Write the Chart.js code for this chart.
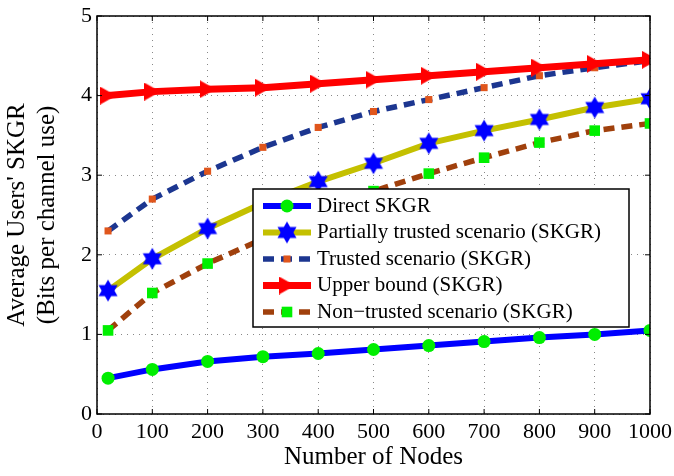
<!DOCTYPE html>
<html>
<head>
<meta charset="utf-8">
<script src="https://cdn.jsdelivr.net/npm/chart.js@4.4.0/dist/chart.umd.min.js"></script>
<style>
  html, body { margin: 0; padding: 0; background: #fff; }
  #wrap { width: 674px; height: 476px; }
</style>
</head>
<body>
<div id="wrap"><canvas id="c" width="674" height="476"></canvas></div>
<script>
const nodes = [20, 100, 200, 300, 400, 500, 600, 700, 800, 900, 1000];
const direct = [0.45, 0.56, 0.66, 0.72, 0.76, 0.81, 0.86, 0.91, 0.96, 1.0, 1.05];
const partial = [1.55, 1.95, 2.33, 2.65, 2.92, 3.15, 3.4, 3.56, 3.7, 3.85, 3.96];
const trusted = [2.3, 2.7, 3.05, 3.35, 3.6, 3.8, 3.95, 4.1, 4.25, 4.35, 4.44];
const upper = [4.0, 4.05, 4.08, 4.1, 4.15, 4.2, 4.25, 4.3, 4.35, 4.4, 4.45];
const nonTrusted = [1.05, 1.52, 1.89, 2.2, 2.5, 2.8, 3.02, 3.22, 3.41, 3.56, 3.65];
const xTicks = [0, 100, 200, 300, 400, 500, 600, 700, 800, 900, 1000];
const yTicks = [0, 1, 2, 3, 4, 5];

const FONT = '"Liberation Serif", "DejaVu Serif", serif';

// marker images
function hexagram(r, color) {
  const c = document.createElement('canvas');
  c.width = c.height = Math.ceil(r * 2 + 2);
  const g = c.getContext('2d');
  const cx = c.width / 2, cy = c.height / 2;
  g.fillStyle = color;
  for (const off of [-Math.PI / 2, Math.PI / 2]) {
    g.beginPath();
    for (let k = 0; k < 3; k++) {
      const a = off + k * 2 * Math.PI / 3;
      g.lineTo(cx + r * Math.cos(a), cy + r * Math.sin(a));
    }
    g.closePath();
    g.fill();
  }
  return c;
}
function triRight(w, h, color) {
  const c = document.createElement('canvas');
  c.width = w; c.height = h;
  const g = c.getContext('2d');
  g.fillStyle = color;
  g.beginPath();
  g.moveTo(0, 0); g.lineTo(w, h / 2); g.lineTo(0, h);
  g.closePath();
  g.fill();
  return c;
}

const starImg = hexagram(11, '#0000ff');
const triImg = triRight(16, 18, '#ff0000');

const pts = arr => nodes.map((n, i) => ({ x: n, y: arr[i] }));

const datasets = [
  {
    label: 'Direct SKGR',
    data: pts(direct),
    borderColor: '#0000ff', borderWidth: 6,
    pointStyle: 'circle', pointRadius: 6.5,
    pointBackgroundColor: '#00ee00', pointBorderColor: '#00ee00', pointBorderWidth: 0,
    order: 5
  },
  {
    label: 'Partially trusted scenario (SKGR)',
    data: pts(partial),
    borderColor: '#c4c000', borderWidth: 6,
    pointStyle: starImg, pointRadius: 10,
    order: 4
  },
  {
    label: 'Trusted scenario (SKGR)',
    data: pts(trusted),
    borderColor: '#1c3690', borderWidth: 5.5, borderDash: [11, 7],
    pointStyle: 'rect', pointRadius: 5,
    pointBackgroundColor: '#e0561c', pointBorderColor: '#e0561c', pointBorderWidth: 0,
    order: 3
  },
  {
    label: 'Upper bound (SKGR)',
    data: pts(upper),
    borderColor: '#ff0000', borderWidth: 7,
    pointStyle: triImg, pointRadius: 9,
    order: 2
  },
  {
    label: 'Non\u2212trusted scenario (SKGR)',
    data: pts(nonTrusted),
    borderColor: '#a0400c', borderWidth: 5.5, borderDash: [11, 7],
    pointStyle: 'rect', pointRadius: 7.5,
    pointBackgroundColor: '#00f000', pointBorderColor: '#00f000', pointBorderWidth: 0,
    order: 1
  }
];

// frame, inward ticks and the boxed legend
const framePlugin = {
  id: 'frame',
  afterDatasetsDraw(chart) {
    const { ctx, chartArea: a, scales } = chart;
    ctx.save();
    ctx.strokeStyle = '#000';
    ctx.lineWidth = 1.5;
    ctx.strokeRect(a.left, a.top, a.right - a.left, a.bottom - a.top);
    ctx.lineWidth = 1;
    ctx.beginPath();
    xTicks.forEach(v => {
      const x = scales.x.getPixelForValue(v);
      ctx.moveTo(x, a.bottom); ctx.lineTo(x, a.bottom - 5);
      ctx.moveTo(x, a.top); ctx.lineTo(x, a.top + 5);
    });
    yTicks.forEach(v => {
      const y = scales.y.getPixelForValue(v);
      ctx.moveTo(a.left, y); ctx.lineTo(a.left + 5, y);
      ctx.moveTo(a.right, y); ctx.lineTo(a.right - 5, y);
    });
    ctx.stroke();

    // legend box
    const lx = 253, ly = 189, lw = 376, lh = 138;
    ctx.fillStyle = '#fff';
    ctx.fillRect(lx, ly, lw, lh);
    ctx.lineWidth = 1.5;
    ctx.strokeRect(lx, ly, lw, lh);
    ctx.font = '21px ' + FONT;
    ctx.textBaseline = 'middle';
    datasets.forEach((ds, i) => {
      const y = ly + 17 + i * 26.5;
      const x0 = lx + 10, x1 = lx + 58, xm = (x0 + x1) / 2;
      ctx.save();
      ctx.strokeStyle = ds.borderColor;
      ctx.lineWidth = ds.borderWidth;
      ctx.setLineDash(ds.borderDash || []);
      ctx.beginPath(); ctx.moveTo(x0, y); ctx.lineTo(x1, y); ctx.stroke();
      ctx.restore();
      if (ds.pointStyle instanceof HTMLCanvasElement) {
        const im = ds.pointStyle;
        ctx.drawImage(im, xm - im.width / 2, y - im.height / 2);
      } else if (ds.pointStyle === 'circle') {
        ctx.fillStyle = ds.pointBackgroundColor;
        ctx.beginPath(); ctx.arc(xm, y, ds.pointRadius, 0, Math.PI * 2); ctx.fill();
      } else {
        const s = ds.pointRadius * Math.SQRT1_2;
        ctx.fillStyle = ds.pointBackgroundColor;
        ctx.fillRect(xm - s, y - s, 2 * s, 2 * s);
      }
      ctx.fillStyle = '#000';
      ctx.fillText(ds.label, lx + 64, y);
    });
    ctx.restore();
  }
};

new Chart(document.getElementById('c'), {
  type: 'line',
  data: { datasets: datasets },
  plugins: [framePlugin],
  options: {
    responsive: false,
    animation: false,
    layout: { padding: { top: 12, right: 24, left: 0, bottom: 0 } },
    plugins: { legend: { display: false }, tooltip: { enabled: false } },
    elements: { line: { tension: 0 } },
    scales: {
      x: {
        type: 'linear', min: 0, max: 1000,
        afterBuildTicks: s => { s.ticks = xTicks.map(v => ({ value: v })); },
        afterFit: s => { s.height = 62; s.paddingLeft = 0; s.paddingRight = 0; },
        grid: { color: '#888', lineWidth: 1, drawTicks: false },
        border: { display: false, dash: [1, 5] },
        ticks: { color: '#000', font: { family: FONT, size: 22 }, padding: 5, maxRotation: 0, callback: v => String(v) },
        title: { display: true, text: 'Number of Nodes', color: '#000', font: { family: FONT, size: 25 }, padding: { top: 3 } }
      },
      y: {
        min: 0, max: 5,
        afterBuildTicks: s => { s.ticks = yTicks.map(v => ({ value: v })); },
        afterFit: s => { s.width = 97; s.paddingTop = 0; s.paddingBottom = 0; },
        grid: { color: '#888', lineWidth: 1, drawTicks: false },
        border: { display: false, dash: [1, 5] },
        ticks: { color: '#000', font: { family: FONT, size: 22 }, padding: 5, callback: v => String(v) },
        title: {
          display: true, text: ["Average Users' SKGR", '(Bits per channel use)'],
          color: '#000', font: { family: FONT, size: 25, lineHeight: 1.2 }, padding: { top: 2, bottom: 0 }
        }
      }
    }
  }
});
</script>
</body>
</html>
